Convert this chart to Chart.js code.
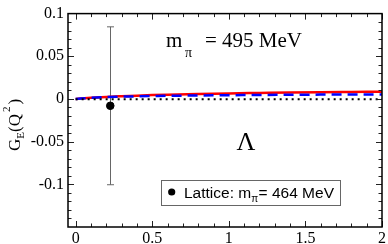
<!DOCTYPE html>
<html>
<head>
<meta charset="utf-8">
<script src="https://cdn.jsdelivr.net/npm/chart.js@4"></script>
<style>
  html, body { margin: 0; padding: 0; background: #fff; }
  #wrap { width: 388px; height: 244px; }
</style>
</head>
<body>
<div id="wrap"><canvas id="gChart" width="388" height="244"></canvas></div>
<script>
// Q^2 grid for the model curves
const q2 = [0, 0.1, 0.2, 0.3, 0.4, 0.5, 0.6, 0.8, 1.0, 1.2, 1.4, 1.6, 1.8, 2.0];
const fullCurve = [0, 0.0013, 0.0024, 0.0032, 0.0039, 0.0045, 0.005, 0.0058, 0.0065, 0.007, 0.0075, 0.0079, 0.0082, 0.0085];
const dashedCurve = [0, 0.0013, 0.0022, 0.0027, 0.0031, 0.0034, 0.0037, 0.0041, 0.0044, 0.0047, 0.0049, 0.0051, 0.0052, 0.0053];
const dottedCurve = [-0.0003, -0.0003, -0.0003, -0.0003, -0.0003, -0.0003, -0.0003, -0.0003, -0.0003, -0.0003, -0.0003, -0.0003, -0.0003, -0.0003];

// lattice point
const latticeX = [0.226];
const latticeY = [-0.008];
const latticeErr = [0.0925];

const xTicks = [0, 0.5, 1, 1.5, 2];
const yTicks = [-0.1, -0.05, 0, 0.05, 0.1];
const xMinor = [0, 0.1, 0.2, 0.3, 0.4, 0.5, 0.6, 0.7, 0.8, 0.9, 1, 1.1, 1.2, 1.3, 1.4, 1.5, 1.6, 1.7, 1.8, 1.9, 2];
const yMinor = [-0.14, -0.13, -0.12, -0.11, -0.1, -0.09, -0.08, -0.07, -0.06, -0.05, -0.04, -0.03, -0.02, -0.01, 0,
                0.01, 0.02, 0.03, 0.04, 0.05, 0.06, 0.07, 0.08, 0.09];

function pts(xs, ys) {
  return xs.map((x, i) => ({ x: x, y: ys[i] }));
}

const serif = '"Liberation Serif", "DejaVu Serif", serif';
const sans = '"Liberation Sans", Arial, sans-serif';

const extras = {
  id: 'extras',
  beforeDatasetsDraw(chart) {
    const ctx = chart.ctx, xs = chart.scales.x, ys = chart.scales.y;
    // error bars
    ctx.save();
    ctx.strokeStyle = '#666';
    ctx.lineWidth = 1;
    latticeX.forEach((x, i) => {
      const px = Math.round(xs.getPixelForValue(x)) + 0.5;
      const top = ys.getPixelForValue(latticeY[i] + latticeErr[i]);
      const bot = ys.getPixelForValue(latticeY[i] - latticeErr[i]);
      ctx.beginPath();
      ctx.moveTo(px, top); ctx.lineTo(px, bot);
      ctx.moveTo(px - 3.5, top); ctx.lineTo(px + 3.5, top);
      ctx.moveTo(px - 3.5, bot); ctx.lineTo(px + 3.5, bot);
      ctx.stroke();
    });
    ctx.restore();
  },
  afterDraw(chart) {
    const ctx = chart.ctx, xs = chart.scales.x, ys = chart.scales.y;
    const a = chart.chartArea;
    ctx.save();
    // ticks, inside, mirrored
    ctx.strokeStyle = '#222';
    ctx.lineWidth = 1;
    ctx.beginPath();
    xMinor.forEach(v => {
      const px = Math.round(xs.getPixelForValue(v)) + 0.5;
      const len = xTicks.includes(v) ? 6 : 3.5;
      ctx.moveTo(px, a.bottom); ctx.lineTo(px, a.bottom - len);
      ctx.moveTo(px, a.top); ctx.lineTo(px, a.top + len);
    });
    yMinor.forEach(v => {
      const py = Math.round(ys.getPixelForValue(v)) + 0.5;
      const len = yTicks.includes(v) ? 6 : 3.5;
      ctx.moveTo(a.left, py); ctx.lineTo(a.left + len, py);
      ctx.moveTo(a.right, py); ctx.lineTo(a.right - len, py);
    });
    ctx.stroke();
    // frame
    ctx.strokeStyle = '#000';
    ctx.lineWidth = 1.5;
    ctx.strokeRect(a.left, a.top, a.right - a.left, a.bottom - a.top);

    // annotations
    ctx.fillStyle = '#000';
    ctx.textBaseline = 'alphabetic';
    ctx.font = '21px ' + serif;
    ctx.fillText('m', 166, 47);
    ctx.font = '14px ' + serif;
    ctx.fillText('\u03c0', 185, 57);
    ctx.font = '21px ' + serif;
    ctx.fillText('= 495 MeV', 205, 47);

    ctx.font = '26px ' + serif;
    ctx.textAlign = 'center';
    ctx.fillText('\u039b', 246, 150);
    ctx.textAlign = 'left';

    // legend box
    ctx.strokeStyle = '#666';
    ctx.lineWidth = 1;
    ctx.strokeRect(161.5, 180.5, 179, 25);
    ctx.beginPath();
    ctx.arc(171.7, 192, 3.6, 0, Math.PI * 2);
    ctx.fill();
    ctx.font = '15.5px ' + sans;
    ctx.fillText('Lattice: m', 184, 197.5);
    let lx = 184 + ctx.measureText('Lattice: m').width;
    ctx.font = '10px ' + sans;
    ctx.fillText('\u03c0', lx, 202);
    lx += ctx.measureText('\u03c0').width + 0.5;
    ctx.font = '15.5px ' + sans;
    ctx.fillText('= 464 MeV', lx, 197.5);

    // y title
    ctx.translate(20, 151);
    ctx.rotate(-Math.PI / 2);
    ctx.font = '17px ' + serif;
    ctx.fillText('G', 0, 0);
    let w = ctx.measureText('G').width;
    ctx.font = '11px ' + serif;
    ctx.fillText('E', w, 4);
    w += ctx.measureText('E').width;
    ctx.font = '17px ' + serif;
    ctx.fillText('(Q', w, 0);
    w += ctx.measureText('(Q').width;
    ctx.font = '11px ' + serif;
    ctx.fillText('2', w + 2, -10);
    w += ctx.measureText('2').width + 4;
    ctx.font = '17px ' + serif;
    ctx.fillText(')', w, 0);
    ctx.restore();
  }
};

const chart = new Chart(document.getElementById('gChart'), {
  type: 'scatter',
  data: {
    datasets: [
      {
        label: 'Lattice',
        data: pts(latticeX, latticeY),
        backgroundColor: '#000',
        borderColor: '#000',
        pointRadius: 3.8,
        showLine: false
      },
      {
        label: 'dotted',
        data: pts(q2, dottedCurve),
        borderColor: '#000',
        borderWidth: 2,
        borderDash: [2, 4],
        pointRadius: 0,
        showLine: true
      },
      {
        label: 'dashed',
        data: pts(q2, dashedCurve),
        borderColor: '#0000ff',
        borderWidth: 2.5,
        borderDash: [10, 6],
        pointRadius: 0,
        showLine: true,
        cubicInterpolationMode: 'monotone'
      },
      {
        label: 'full',
        data: pts(q2, fullCurve),
        borderColor: '#ff0000',
        borderWidth: 2.5,
        pointRadius: 0,
        showLine: true,
        cubicInterpolationMode: 'monotone'
      }
    ]
  },
  options: {
    responsive: false,
    animation: false,
    layout: { padding: { left: 0, right: 5, top: 6, bottom: 0 } },
    plugins: { legend: { display: false }, tooltip: { enabled: false } },
    scales: {
      x: {
        type: 'linear',
        min: -0.05,
        max: 2,
        grid: { display: false, drawTicks: false },
        border: { display: false },
        afterBuildTicks: s => { s.ticks = xTicks.map(v => ({ value: v })); },
        afterFit: s => { s.height = 17; },
        ticks: {
          color: '#000',
          padding: 2,
          maxRotation: 0,
          font: { family: serif, size: 16 },
          callback: v => String(v)
        }
      },
      y: {
        type: 'linear',
        min: -0.15,
        max: 0.1,
        grid: { display: false, drawTicks: false },
        border: { display: false },
        afterBuildTicks: s => { s.ticks = yTicks.map(v => ({ value: v })); },
        afterFit: s => { s.width = 68; },
        ticks: {
          color: '#000',
          padding: 4,
          font: { family: serif, size: 16 },
          callback: v => String(v)
        }
      }
    }
  },
  plugins: [extras]
});
</script>
</body>
</html>
